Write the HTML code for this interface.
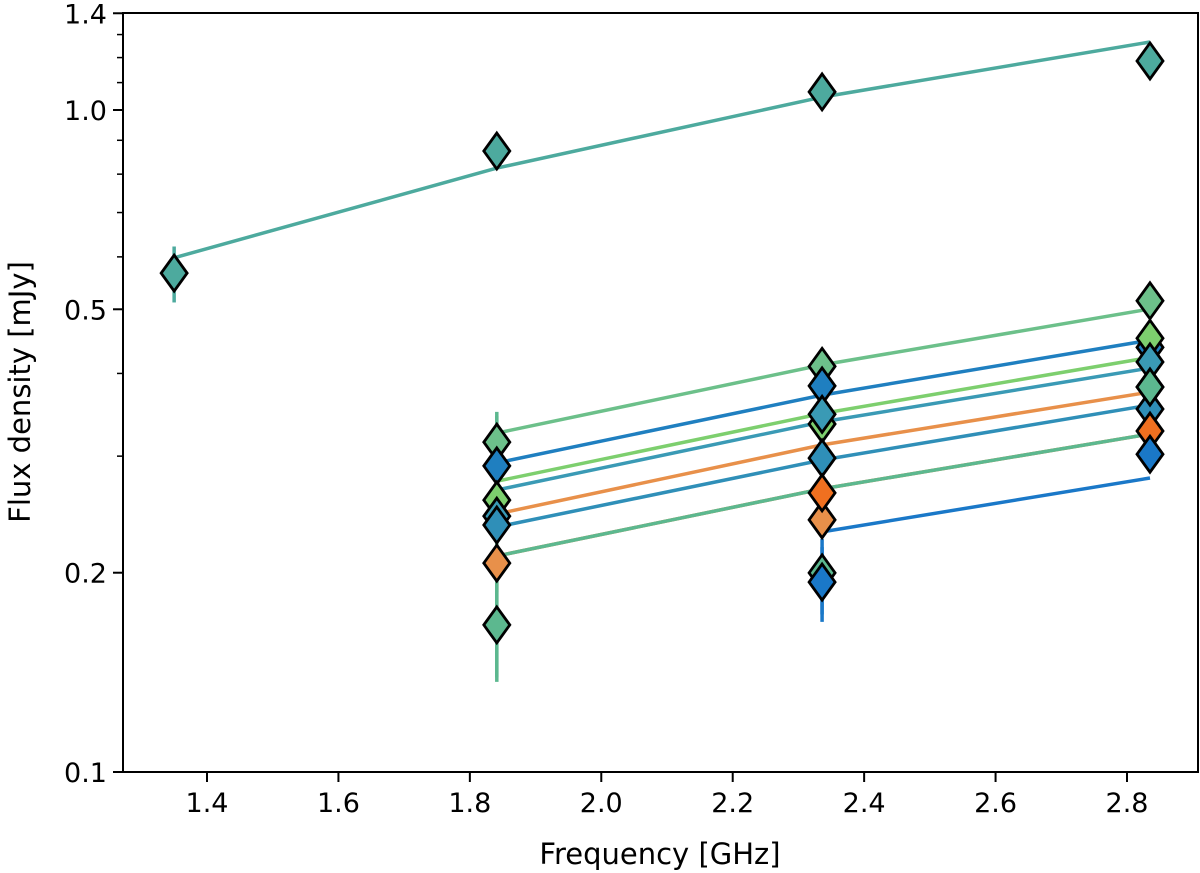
<!DOCTYPE html>
<html><head><meta charset="utf-8"><style>
body{margin:0;background:#fff}
svg{display:block;font-family:"DejaVu Sans","Liberation Sans",sans-serif}
</style></head><body>
<svg id="chart" width="1200" height="873" viewBox="0 0 1200 873"></svg>
<script>
const seriesColors=["#4daa9e","#6cc08a","#1f7fc0","#7dcf6e","#3a9ab5","#e8904a","#2f8fb8","#f07020","#5cb88f","#1a78c8"];
const fitFreqs=[[1.35,1.841,2.336,2.835],[1.841,2.336,2.835],[1.841,2.336,2.835],[1.841,2.336,2.835],[1.841,2.336,2.835],[1.841,2.336,2.835],[1.841,2.336,2.835],[1.841,2.336,2.835],[1.841,2.336,2.835],[2.336,2.835]];
const fitValues=[[0.598,0.817,1.046,1.267],[0.325,0.412,0.5005],[0.293,0.371,0.449],[0.275,0.348,0.423],[0.2667,0.338,0.4076],[0.2453,0.312,0.375],[0.2345,0.296,0.3584],[0.212,0.2677,0.324],[0.212,0.2677,0.324],[0.2305,0.278]];
const pointFreqs=[[1.35,1.841,2.336,2.835],[1.841,2.336,2.835],[1.841,2.336,2.835],[1.841,2.336,2.835],[1.841,2.336,2.835],[1.841,2.336,2.835],[1.841,2.336,2.835],[2.336,2.835],[1.841,2.336,2.835],[2.336,2.835]];
const pointValues=[[0.567,0.867,1.065,1.186],[0.315,0.410,0.515],[0.290,0.383,0.438],[0.2575,0.3355,0.452],[0.2435,0.347,0.4163],[0.2068,0.2404,0.3815],[0.2361,0.298,0.3534],[0.264,0.3274],[0.1668,0.1999,0.3815],[0.1936,0.302]];
const pointErrors=[[0.055,0.02,0.02,0.02],[0.03,0.01,0.01],[0.01,0.01,0.01],[0.01,0.01,0.01],[0.01,0.01,0.01],[0.02,0.01,0.01],[0.01,0.01,0.01],[0.01,0.01],[0.03,0.01,0.01],[0.025,0.01]];
const yTicks=[0.1,0.2,0.5,1.0,1.4];
const yTickLabels=["0.1","0.2","0.5","1.0","1.4"];
const yMinor=[0.3,0.4,0.6,0.7,0.8,0.9,1.1,1.2,1.3];
const xTicks=[1.4,1.6,1.8,2.0,2.2,2.4,2.6,2.8];

const L=123,R=1198,T=13,B=772;
const X=v=>207+(v-1.4)*657.14;
const Y=v=>110-Math.log10(v)*662;
const svg=document.getElementById('chart');
const NS="http://www.w3.org/2000/svg";
function mk(tag,attrs,parent){const e=document.createElementNS(NS,tag);for(const k in attrs)e.setAttribute(k,attrs[k]);(parent||svg).appendChild(e);return e;}

fitValues.forEach((vals,i)=>{
  const pts=vals.map((v,j)=>X(fitFreqs[i][j]).toFixed(1)+","+Y(v).toFixed(1)).join(" ");
  const p=mk('polyline',{points:pts,fill:'none',stroke:seriesColors[i],'stroke-width':3.5});
  
  
});
pointValues.forEach((vals,i)=>{
  vals.forEach((v,j)=>{
    const x=X(pointFreqs[i][j]),e=pointErrors[i][j];
    const l=mk('line',{x1:x,x2:x,y1:Y(v+e),y2:Y(Math.max(v-e,0.101)),stroke:seriesColors[i],'stroke-width':3.5});
    
    
  });
});
[[1.841,0.35,0.139,8],[2.336,0.225,0.173,9]].forEach(a=>{
  const l=mk('line',{x1:X(a[0]),x2:X(a[0]),y1:Y(a[1]),y2:Y(a[2]),stroke:seriesColors[a[3]],'stroke-width':3.5});
  
  
});
pointValues.forEach((vals,i)=>{
  vals.forEach((v,j)=>{
    const x=X(pointFreqs[i][j]),y=Y(v);
    const d=mk('polygon',{points:`${x},${y-18} ${x+13},${y} ${x},${y+18} ${x-13},${y}`,fill:seriesColors[i],stroke:'#000','stroke-width':2.8});
    
    
  });
});
const fr=mk('rect',{x:L,y:T,width:R-L,height:B-T,fill:'none',stroke:'#000','stroke-width':2});


yTicks.forEach((v,i)=>{
  const y=Y(v);
  mk('line',{x1:L-10,x2:L,y1:y,y2:y,stroke:'#000','stroke-width':2});
  const t=mk('text',{x:L-16,y:y+10,'text-anchor':'end','font-size':27,fill:'#000'});
  t.textContent=yTickLabels[i];
  
  
});
yMinor.forEach(v=>{const y=Y(v);mk('line',{x1:L-6,x2:L,y1:y,y2:y,stroke:'#000','stroke-width':1.5});});
xTicks.forEach(v=>{
  const x=X(v);
  mk('line',{x1:x,x2:x,y1:B,y2:B+10,stroke:'#000','stroke-width':2});
  const t=mk('text',{x:x,y:B+40,'text-anchor':'middle','font-size':27,fill:'#000'});
  t.textContent=v.toFixed(1);
  
  
});
const xl=mk('text',{x:660,y:864,'text-anchor':'middle','font-size':29,fill:'#000'});
xl.textContent="Frequency [GHz]";


const yl=mk('text',{x:0,y:0,transform:'translate(30,392) rotate(-90)','text-anchor':'middle','font-size':29,fill:'#000'});
yl.textContent="Flux density [mJy]";


</script>
</body></html>
